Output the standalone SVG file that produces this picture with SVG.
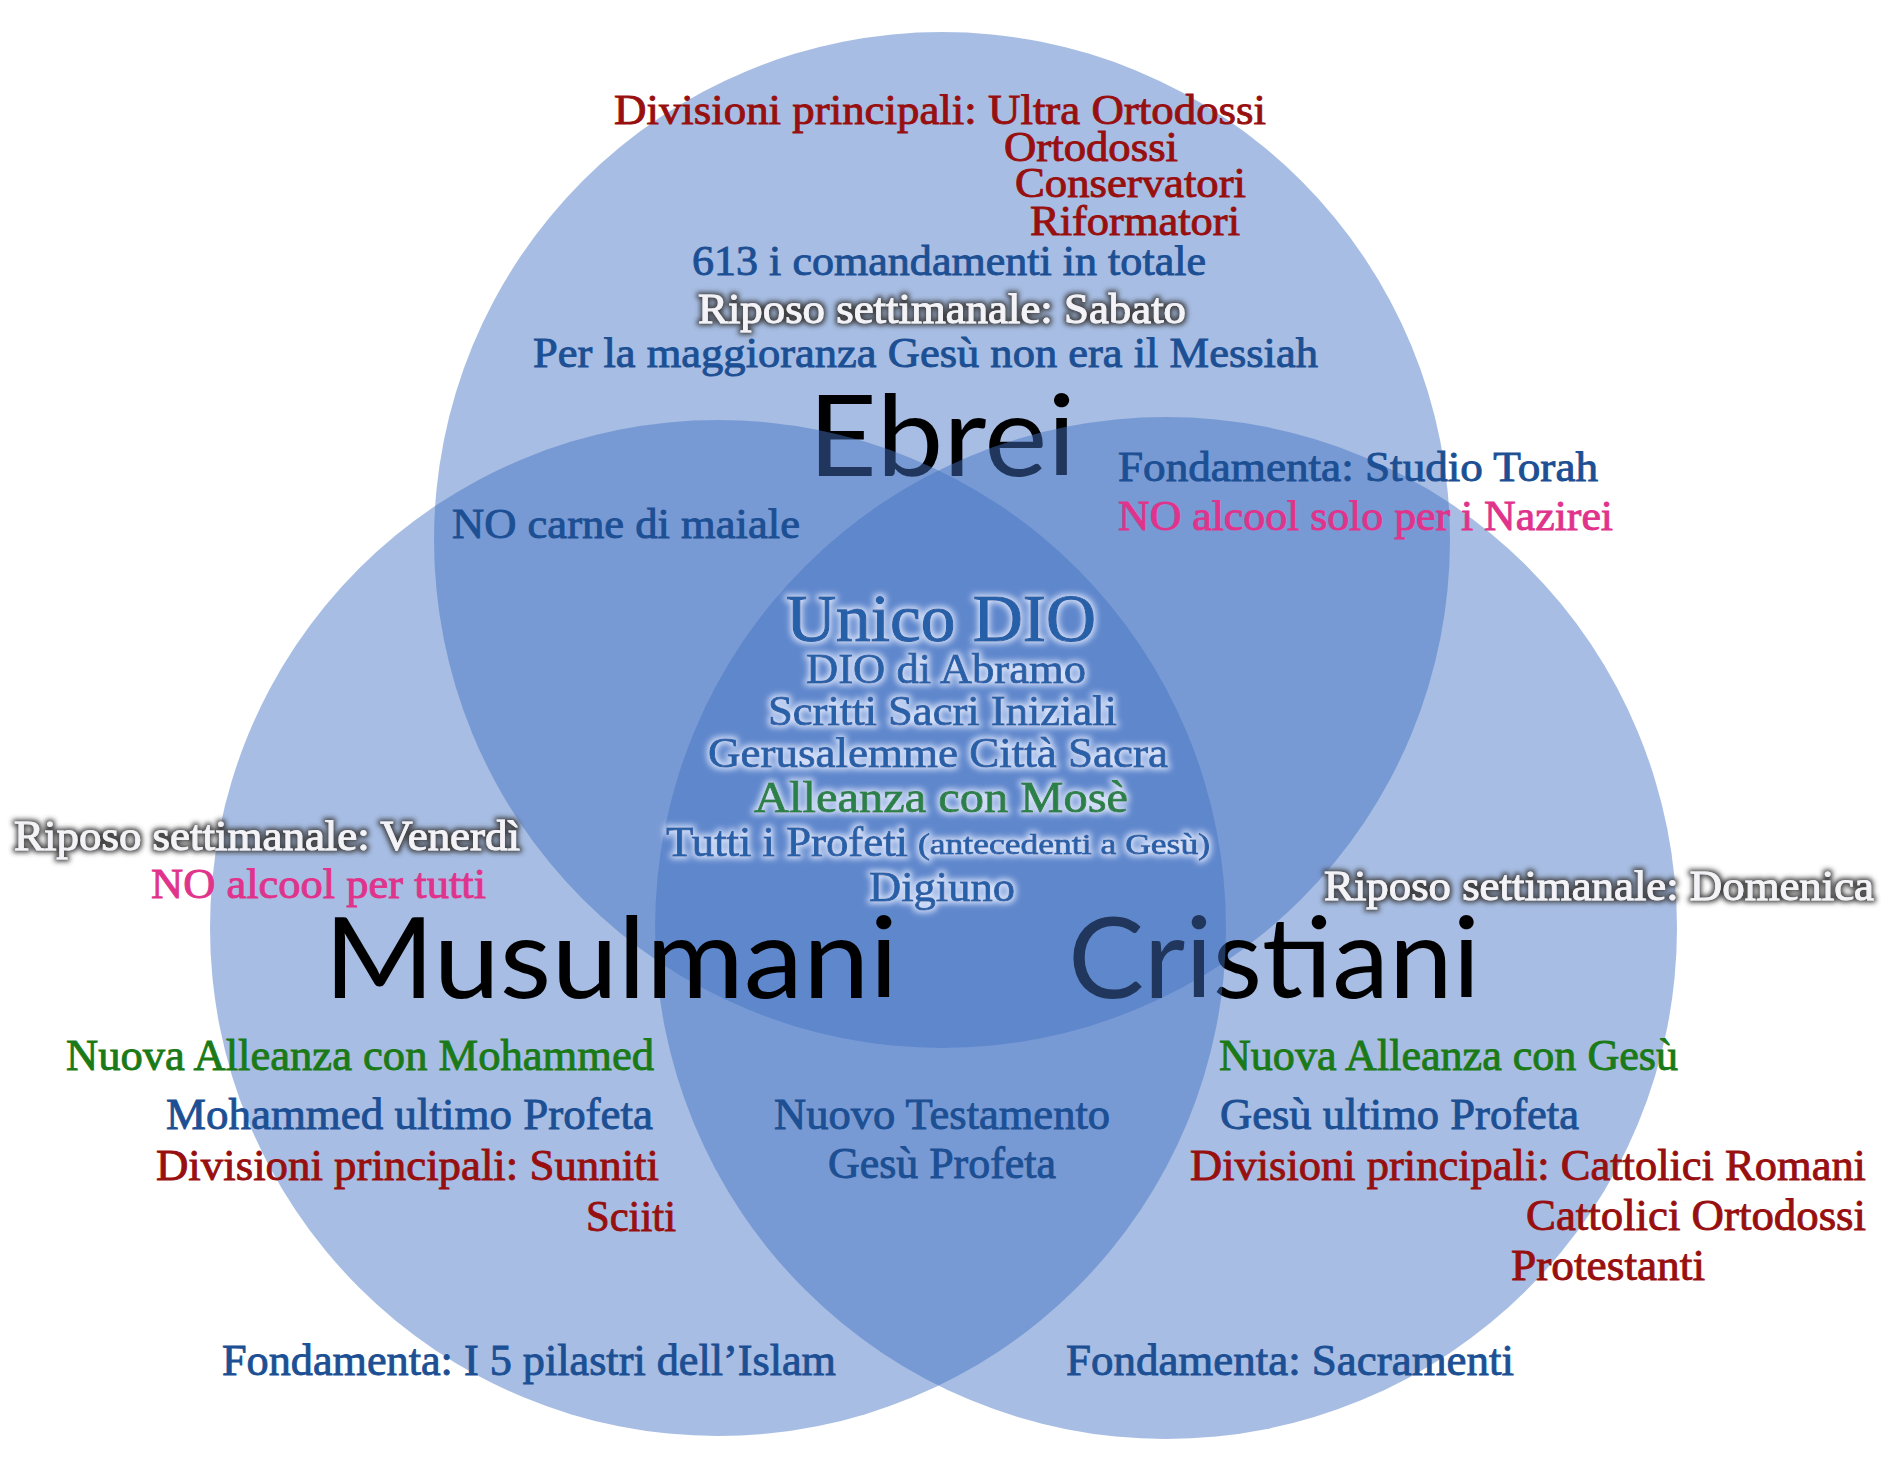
<svg xmlns="http://www.w3.org/2000/svg" width="1881" height="1473" viewBox="0 0 1881 1473">
<defs>
<filter id="darkGlow" x="-10%" y="-40%" width="120%" height="180%">
<feMorphology in="SourceAlpha" operator="dilate" radius="2" result="d"/>
<feGaussianBlur in="d" stdDeviation="2.5" result="b"/>
<feFlood flood-color="#3a3a3a" flood-opacity="0.95"/>
<feComposite in2="b" operator="in" result="g"/>
<feMerge><feMergeNode in="g"/><feMergeNode in="SourceGraphic"/></feMerge>
</filter>
<filter id="lightGlow" x="-10%" y="-40%" width="120%" height="180%">
<feMorphology in="SourceAlpha" operator="dilate" radius="1.5" result="d"/>
<feGaussianBlur in="d" stdDeviation="3" result="b"/>
<feFlood flood-color="#e4ecff" flood-opacity="0.9"/>
<feComposite in2="b" operator="in" result="g"/>
<feMerge><feMergeNode in="g"/><feMergeNode in="SourceGraphic"/></feMerge>
</filter>
</defs>
<style>
.set { fill: #4472C4; fill-opacity: 0.47; }
.big { font-family: Lato, "Open Sans", sans-serif; font-size: 112px; fill: #000; }
text.t { font-family: "Liberation Serif", "DejaVu Serif", serif; font-size: 42px; stroke-width: 0.9px; }
text.lo { font-size: 44px; }
.red { fill: #980f0f; stroke: #980f0f; }
.blue { fill: #1c4f93; stroke: #1c4f93; }
.green { fill: #1b7a17; stroke: #1b7a17; }
.pink { fill: #e0338c; stroke: #e0338c; }
.white { fill: #f4f4f8; stroke: #f4f4f8; filter: url(#darkGlow); }
.core { fill: #2860a8; stroke: #2860a8; filter: url(#lightGlow); }
.coreg { fill: #2b8048; stroke: #2b8048; filter: url(#lightGlow); }
</style>
<rect width="1881" height="1473" fill="#ffffff"/>

<g id="set-ebrei">
<circle class="set" cx="942" cy="540" r="508"/>
<text class="big" x="808" y="476" textLength="268" lengthAdjust="spacingAndGlyphs">Ebrei</text>
</g>
<g id="set-cristiani">
<circle class="set" cx="1166" cy="928" r="511"/>
<text class="big" x="1068" y="998" textLength="412" lengthAdjust="spacingAndGlyphs">Cristiani</text>
</g>
<g id="set-musulmani">
<circle class="set" cx="718" cy="928" r="508"/>
<text class="big" x="324" y="998" textLength="574" lengthAdjust="spacingAndGlyphs">Musulmani</text>
</g>

<g id="ebrei-only">
<text class="t red" x="614" y="124" textLength="652" lengthAdjust="spacingAndGlyphs">Divisioni principali: Ultra Ortodossi</text>
<text class="t red" x="1004" y="161" textLength="174" lengthAdjust="spacingAndGlyphs">Ortodossi</text>
<text class="t red" x="1015" y="197" textLength="231" lengthAdjust="spacingAndGlyphs">Conservatori</text>
<text class="t red" x="1030" y="235" textLength="210" lengthAdjust="spacingAndGlyphs">Riformatori</text>
<text class="t blue" x="692" y="275" textLength="514" lengthAdjust="spacingAndGlyphs">613 i comandamenti in totale</text>
<text class="t white" x="698" y="323" textLength="488" lengthAdjust="spacingAndGlyphs">Riposo settimanale: Sabato</text>
<text class="t blue" x="533" y="367" textLength="785" lengthAdjust="spacingAndGlyphs">Per la maggioranza Gesù non era il Messiah</text>
</g>

<g id="ebrei-cristiani">
<text class="t blue" x="1118" y="481" textLength="480" lengthAdjust="spacingAndGlyphs">Fondamenta: Studio Torah</text>
<text class="t pink" x="1118" y="530" textLength="495" lengthAdjust="spacingAndGlyphs">NO alcool solo per i Nazirei</text>
</g>

<g id="ebrei-musulmani">
<text class="t blue" x="452" y="538" textLength="348" lengthAdjust="spacingAndGlyphs">NO carne di maiale</text>
</g>

<g id="comune">
<text class="t core" x="786" y="641" style="font-size:68px;stroke-width:1.2px" textLength="310" lengthAdjust="spacingAndGlyphs">Unico DIO</text>
<text class="t core" x="806" y="683" textLength="280" lengthAdjust="spacingAndGlyphs">DIO di Abramo</text>
<text class="t core" x="768" y="725" textLength="349" lengthAdjust="spacingAndGlyphs">Scritti Sacri Iniziali</text>
<text class="t core" x="708" y="767" textLength="460" lengthAdjust="spacingAndGlyphs">Gerusalemme Città Sacra</text>
<text class="t coreg" x="754" y="812" style="font-size:44px" textLength="374" lengthAdjust="spacingAndGlyphs">Alleanza con Mosè</text>
<text class="t core" x="666" y="856" textLength="242" lengthAdjust="spacingAndGlyphs">Tutti i Profeti</text>
<text class="t core" x="918" y="854" style="font-size:30px" textLength="292" lengthAdjust="spacingAndGlyphs">(antecedenti a Gesù)</text>
<text class="t core" x="869" y="901" textLength="146" lengthAdjust="spacingAndGlyphs">Digiuno</text>
</g>

<g id="musulmani-only">
<text class="t white" x="14" y="850" textLength="506" lengthAdjust="spacingAndGlyphs">Riposo settimanale: Venerdì</text>
<text class="t pink" x="151" y="898" textLength="335" lengthAdjust="spacingAndGlyphs">NO alcool per tutti</text>
<text class="t lo green" x="66" y="1070" textLength="588" lengthAdjust="spacingAndGlyphs">Nuova Alleanza con Mohammed</text>
<text class="t lo blue" x="166" y="1129" textLength="487" lengthAdjust="spacingAndGlyphs">Mohammed ultimo Profeta</text>
<text class="t lo red" x="156" y="1180" textLength="503" lengthAdjust="spacingAndGlyphs">Divisioni principali: Sunniti</text>
<text class="t lo red" x="586" y="1231" textLength="90" lengthAdjust="spacingAndGlyphs">Sciiti</text>
<text class="t lo blue" x="222" y="1375" textLength="614" lengthAdjust="spacingAndGlyphs">Fondamenta: I 5 pilastri dell’Islam</text>
</g>

<g id="musulmani-cristiani">
<text class="t lo blue" x="774" y="1129" textLength="336" lengthAdjust="spacingAndGlyphs">Nuovo Testamento</text>
<text class="t lo blue" x="828" y="1178" textLength="228" lengthAdjust="spacingAndGlyphs">Gesù Profeta</text>
</g>

<g id="cristiani-only">
<text class="t white" x="1324" y="900" textLength="550" lengthAdjust="spacingAndGlyphs">Riposo settimanale: Domenica</text>
<text class="t lo green" x="1219" y="1070" textLength="459" lengthAdjust="spacingAndGlyphs">Nuova Alleanza con Gesù</text>
<text class="t lo blue" x="1220" y="1129" textLength="359" lengthAdjust="spacingAndGlyphs">Gesù ultimo Profeta</text>
<text class="t lo red" x="1190" y="1180" textLength="676" lengthAdjust="spacingAndGlyphs">Divisioni principali: Cattolici Romani</text>
<text class="t lo red" x="1526" y="1230" textLength="340" lengthAdjust="spacingAndGlyphs">Cattolici Ortodossi</text>
<text class="t lo red" x="1511" y="1280" textLength="194" lengthAdjust="spacingAndGlyphs">Protestanti</text>
<text class="t lo blue" x="1066" y="1375" textLength="448" lengthAdjust="spacingAndGlyphs">Fondamenta: Sacramenti</text>
</g>
</svg>
